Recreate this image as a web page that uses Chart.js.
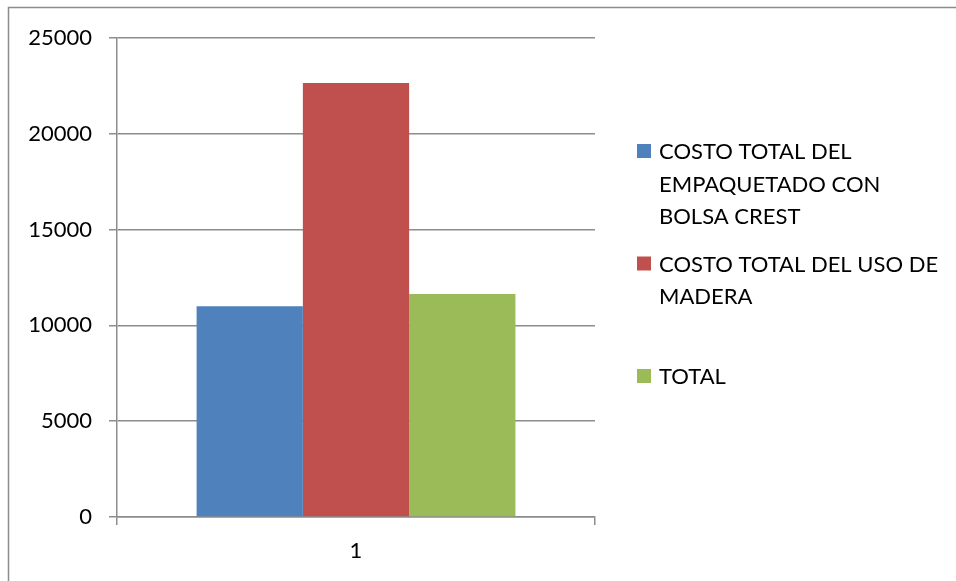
<!DOCTYPE html>
<html>
<head>
<meta charset="utf-8">
<script src="https://cdn.jsdelivr.net/npm/chart.js@4/dist/chart.umd.min.js"></script>
<style>
  html, body { margin: 0; padding: 0; background: #fff; }
  canvas { display: block; }
</style>
</head>
<body>
<canvas id="c" width="956" height="581"></canvas>
<script>
// Cost comparison data
const categories = ['1'];
const seriesLabels = [
  'COSTO TOTAL DEL EMPAQUETADO CON BOLSA CREST',
  'COSTO TOTAL DEL USO DE MADERA',
  'TOTAL'
];
const empaquetado = [11000];
const madera = [22650];
const total = [11640];
const seriesColors = ['#4F81BD', '#C0504D', '#9BBB59'];
const yTicks = [0, 5000, 10000, 15000, 20000, 25000];

const FONT = 'Lato, "Open Sans", sans-serif';
const TEXT_SIZE = 22;
const GRID = '#8c8c8c';

// White background and outer frame
const framePlugin = {
  id: 'frame',
  beforeDraw(chart) {
    const ctx = chart.ctx;
    ctx.save();
    ctx.fillStyle = '#fff';
    ctx.fillRect(0, 0, chart.width, chart.height);
    ctx.strokeStyle = GRID;
    ctx.lineWidth = 1.5;
    ctx.beginPath();
    ctx.moveTo(8.5, chart.height + 2);
    ctx.lineTo(8.5, 7.5);
    ctx.lineTo(chart.width + 2, 7.5);
    ctx.stroke();
    ctx.restore();
  }
};

// Legend on the right with word-wrapped labels
const wrapLegend = {
  id: 'wrapLegend',
  afterDraw(chart) {
    const ctx = chart.ctx;
    const lineH = 32.5;
    const boxX = 637, boxSize = 14, textX = 659, maxW = 288;
    const firstY = 152, slot = 112.5;
    ctx.save();
    ctx.font = TEXT_SIZE + 'px ' + FONT;
    ctx.textBaseline = 'middle';
    ctx.textAlign = 'left';
    chart.data.datasets.forEach((ds, i) => {
      const words = ds.label.split(' ');
      const lines = [];
      let cur = '';
      words.forEach(w => {
        const test = cur ? cur + ' ' + w : w;
        if (cur && ctx.measureText(test).width > maxW) {
          lines.push(cur);
          cur = w;
        } else {
          cur = test;
        }
      });
      if (cur) lines.push(cur);
      const y0 = firstY + i * slot;
      ctx.fillStyle = ds.backgroundColor;
      ctx.fillRect(boxX, y0 - boxSize / 2 - 1, boxSize, boxSize);
      ctx.fillStyle = '#000';
      lines.forEach((ln, k) => ctx.fillText(ln, textX, y0 + k * lineH));
    });
    ctx.restore();
  }
};

new Chart(document.getElementById('c'), {
  type: 'bar',
  data: {
    labels: categories,
    datasets: [
      { label: seriesLabels[0], data: empaquetado, backgroundColor: seriesColors[0] },
      { label: seriesLabels[1], data: madera, backgroundColor: seriesColors[1] },
      { label: seriesLabels[2], data: total, backgroundColor: seriesColors[2] }
    ]
  },
  options: {
    responsive: false,
    animation: false,
    devicePixelRatio: 1,
    categoryPercentage: 0.667,
    barPercentage: 1,
    layout: { padding: { top: 38, right: 361, bottom: 0, left: 0 } },
    plugins: {
      legend: { display: false },
      tooltip: { enabled: false }
    },
    scales: {
      x: {
        grid: {
          display: true,
          drawOnChartArea: false,
          drawTicks: true,
          tickLength: 8,
          color: GRID,
          lineWidth: 1.5
        },
        border: { display: true, color: GRID, width: 1.5 },
        ticks: { color: '#000', font: { family: FONT, size: TEXT_SIZE }, padding: 13 },
        afterFit(s) { s.height = 64; }
      },
      y: {
        min: 0,
        max: 25000,
        afterBuildTicks(s) { s.ticks = yTicks.map(v => ({ value: v })); },
        grid: {
          color: GRID,
          lineWidth: 1.5,
          tickLength: 8,
          drawTicks: true
        },
        border: { display: true, color: GRID, width: 1.5 },
        ticks: {
          color: '#000',
          font: { family: FONT, size: TEXT_SIZE },
          padding: 17,
          callback: v => String(v)
        },
        afterFit(s) { s.width = 117; }
      }
    }
  },
  plugins: [framePlugin, wrapLegend]
});
</script>
</body>
</html>
